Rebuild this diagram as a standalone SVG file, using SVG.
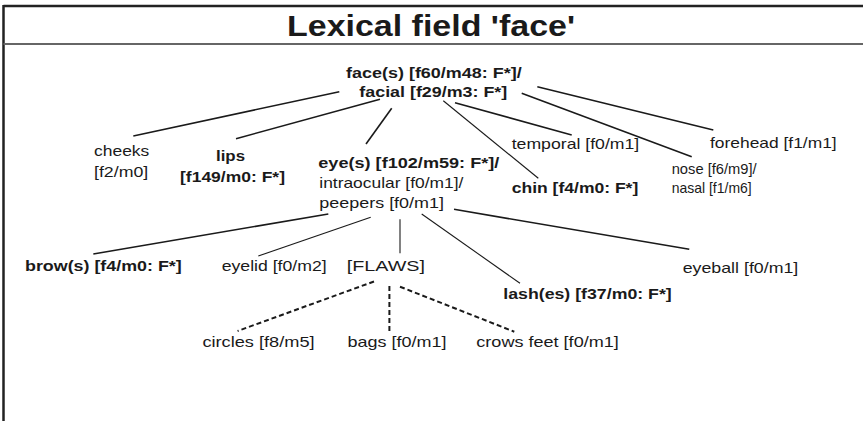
<svg xmlns="http://www.w3.org/2000/svg" width="863" height="421" viewBox="0 0 863 421">
<style>
  text { font-family: "Liberation Sans", Arial, sans-serif; font-size: 15px; fill: #1a1a1a; }
  .b { font-weight: bold; }
  .title { font-size: 29px; font-weight: bold; }
  .c { stroke: #1a1a1a; stroke-width: 1.6; fill: none; }
  .t { stroke-width: 1.1; }
  .d { stroke-dasharray: 5 3; stroke-width: 2; }
</style>
<rect width="863" height="421" fill="#ffffff"/>
<g id="frame">
  <line x1="3.5" y1="6" x2="863" y2="6" stroke="#222" stroke-width="2.5"/>
  <line x1="3.5" y1="5" x2="3.5" y2="421" stroke="#222" stroke-width="2.5"/>
  <line x1="3.5" y1="44" x2="863" y2="44" stroke="#666" stroke-width="2"/>
  <text class="title" x="287" y="35.5" textLength="288" lengthAdjust="spacingAndGlyphs">Lexical field 'face'</text>
</g>
<g id="connectors">
  <line class="c" x1="339.3" y1="91.7" x2="133.3" y2="136"/>
  <line class="c" x1="380" y1="99.3" x2="236" y2="138.7"/>
  <line class="c" x1="391.7" y1="108.3" x2="366" y2="144"/>
  <line class="c t" x1="443.3" y1="100.7" x2="538.3" y2="178.3"/>
  <line class="c" x1="455" y1="102.7" x2="571.7" y2="135"/>
  <line class="c" x1="521.7" y1="93.3" x2="691.7" y2="156.7"/>
  <line class="c" x1="537.3" y1="86.7" x2="713.3" y2="130"/>
  <line class="c" x1="328.3" y1="214" x2="93.3" y2="254"/>
  <line class="c t" x1="370.7" y1="217.3" x2="258.3" y2="256"/>
  <line class="c t" x1="400" y1="219.3" x2="400" y2="253.3"/>
  <line class="c t" x1="421.7" y1="214" x2="520" y2="283.3"/>
  <line class="c" x1="454" y1="209.3" x2="689.3" y2="249.3"/>
  <line class="c d" x1="374" y1="281.5" x2="237.6" y2="331"/>
  <line class="c d" x1="389.4" y1="286" x2="389.4" y2="331"/>
  <line class="c d" x1="400" y1="286.7" x2="514.3" y2="331.7"/>
</g>
<g id="face">
  <text class="b" x="346" y="77.5" textLength="175.7" lengthAdjust="spacingAndGlyphs">face(s) [f60/m48: F*]/</text>
  <text class="b" x="359.3" y="97" textLength="148" lengthAdjust="spacingAndGlyphs">facial [f29/m3: F*]</text>
</g>
<g id="cheeks">
  <text x="94" y="156" textLength="55.3" lengthAdjust="spacingAndGlyphs">cheeks</text>
  <text x="94" y="177" textLength="54.3" lengthAdjust="spacingAndGlyphs">[f2/m0]</text>
</g>
<g id="lips">
  <text class="b" x="216" y="160.7" textLength="29" lengthAdjust="spacingAndGlyphs">lips</text>
  <text class="b" x="180" y="182" textLength="105" lengthAdjust="spacingAndGlyphs">[f149/m0: F*]</text>
</g>
<g id="eyes">
  <text class="b" x="318.3" y="167.5" textLength="181" lengthAdjust="spacingAndGlyphs">eye(s) [f102/m59: F*]/</text>
  <text x="319.3" y="188" textLength="144" lengthAdjust="spacingAndGlyphs">intraocular [f0/m1]/</text>
  <text x="319.3" y="208" textLength="124.7" lengthAdjust="spacingAndGlyphs">peepers [f0/m1]</text>
</g>
<g id="temporal">
  <text x="511.7" y="149.3" textLength="127.6" lengthAdjust="spacingAndGlyphs">temporal [f0/m1]</text>
</g>
<g id="forehead">
  <text x="710" y="148.3" textLength="126.7" lengthAdjust="spacingAndGlyphs">forehead [f1/m1]</text>
</g>
<g id="nose">
  <text x="671.7" y="173.5" textLength="85" lengthAdjust="spacingAndGlyphs">nose [f6/m9]/</text>
  <text x="671.7" y="193.3" textLength="80" lengthAdjust="spacingAndGlyphs">nasal [f1/m6]</text>
</g>
<g id="chin">
  <text class="b" x="511.7" y="193.3" textLength="126.6" lengthAdjust="spacingAndGlyphs">chin [f4/m0: F*]</text>
</g>
<g id="brows">
  <text class="b" x="25" y="271" textLength="156.7" lengthAdjust="spacingAndGlyphs">brow(s) [f4/m0: F*]</text>
</g>
<g id="eyelid">
  <text x="221.7" y="271" textLength="105" lengthAdjust="spacingAndGlyphs">eyelid [f0/m2]</text>
</g>
<g id="flaws">
  <text x="346.7" y="271" textLength="78.3" lengthAdjust="spacingAndGlyphs">[FLAWS]</text>
</g>
<g id="eyeball">
  <text x="682.7" y="273" textLength="115.6" lengthAdjust="spacingAndGlyphs">eyeball [f0/m1]</text>
</g>
<g id="lashes">
  <text class="b" x="503.3" y="298.7" textLength="168.4" lengthAdjust="spacingAndGlyphs">lash(es) [f37/m0: F*]</text>
</g>
<g id="circles">
  <text x="202.4" y="347" textLength="112.2" lengthAdjust="spacingAndGlyphs">circles [f8/m5]</text>
</g>
<g id="bags">
  <text x="347.6" y="347" textLength="99" lengthAdjust="spacingAndGlyphs">bags [f0/m1]</text>
</g>
<g id="crowsfeet">
  <text x="476.3" y="347" textLength="142.5" lengthAdjust="spacingAndGlyphs">crows feet [f0/m1]</text>
</g>
</svg>
